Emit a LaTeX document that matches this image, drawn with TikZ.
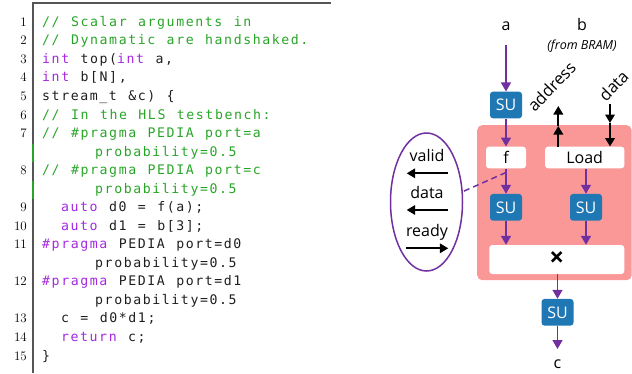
\documentclass[tikz,border=0pt]{standalone}
\usepackage{fontspec}
\newfontfamily\dfont{Open Sans}
\newfontfamily\codefont[LetterSpace=12,WordSpace=1.2]{DejaVu Sans Mono}
\usetikzlibrary{arrows.meta,shapes.geometric}
\definecolor{cmt}{RGB}{40,165,40}
\definecolor{kwc}{RGB}{165,40,225}
\definecolor{codetxt}{RGB}{30,30,30}
\definecolor{rulec}{RGB}{85,85,85}
\definecolor{pur}{RGB}{112,48,160}
\definecolor{subl}{RGB}{31,119,180}
\definecolor{pinkbg}{RGB}{250,152,152}
\newcommand{\kw}[1]{\textcolor{kwc}{#1}}
\begin{document}
\begin{tikzpicture}[x=1pt,y=-1pt,
  codeline/.style={anchor=base west, inner sep=0, text=codetxt, font=\codefont\fontsize{13.2}{15}\selectfont},
  cmtline/.style={codeline, text=cmt},
  numline/.style={anchor=base east, inner sep=0, font=\fontsize{13}{15}\selectfont},
  lbl/.style={anchor=base, inner sep=0, font=\dfont\fontsize{16}{18}\selectfont},
  subox/.style={fill=subl, rounded corners=3pt, text=white, minimum width=32, minimum height=26.7, inner sep=0, font=\dfont\fontsize{16}{18}\selectfont},
  wbox/.style={fill=white, rounded corners=3pt, minimum height=21.6, inner sep=0, font=\dfont\fontsize{16}{18}\selectfont},
  parr/.style={draw=pur, line width=1.5pt, -{Triangle[width=10pt,length=9pt]}},
  barr/.style={draw=black, line width=2pt, -{Triangle[width=9.5pt,length=8.5pt]}}
]
\useasboundingbox (0,0) rectangle (632,373);

% ---------------- listing ----------------
\draw[rulec, line width=1.5pt] (32.25,3) -- (331,3);
\draw[rulec, line width=1.5pt] (33,2.25) -- (33,143.5);
\draw[cmt, line width=1.5pt] (33,143.5) -- (33,161.8);
\draw[rulec, line width=1.5pt] (33,161.8) -- (33,180.5);
\draw[cmt, line width=1.5pt] (33,180.5) -- (33,198.9);
\draw[rulec, line width=1.5pt] (33,198.9) -- (33,373);

\node[numline] (n1) at (27,26.3) {1};
\node[numline] (n2) at (27,44.84) {2};
\node[numline] (n3) at (27,63.38) {3};
\node[numline] (n4) at (27,81.92) {4};
\node[numline] (n5) at (27,100.46) {5};
\node[numline] (n6) at (27,119.0) {6};
\node[numline] (n7) at (27,137.54) {7};
\node[numline] (n8) at (27,174.62) {8};
\node[numline] (n9) at (27,211.7) {9};
\node[numline] (n10) at (27,230.24) {10};
\node[numline] (n11) at (27,248.78) {11};
\node[numline] (n12) at (27,285.86) {12};
\node[numline] (n13) at (27,322.94) {13};
\node[numline] (n14) at (27,341.48) {14};
\node[numline] (n15) at (27,360.02) {15};

\node[cmtline] (c1) at (42,26.3) {// Scalar arguments in};
\node[cmtline] (c2) at (42,44.84) {// Dynamatic are handshaked.};
\node[codeline] (c3) at (42,63.38) {\kw{int} top(\kw{int} a,};
\node[codeline] (c4) at (42,81.92) {\kw{int} b[N],};
\node[codeline] (c5) at (42,100.46) {stream\_t \&c) \{};
\node[cmtline] (c6) at (42,119.0) {// In the HLS testbench:};
\node[cmtline] (c7) at (42,137.54) {// \#pragma PEDIA port=a};
\node[cmtline] (c7b) at (95,156.08) {probability=0.5};
\node[cmtline] (c8) at (42,174.62) {// \#pragma PEDIA port=c};
\node[cmtline] (c8b) at (95,193.16) {probability=0.5};
\node[codeline] (c9) at (60.9,211.7) {\kw{auto} d0 = f(a);};
\node[codeline] (c10) at (60.9,230.24) {\kw{auto} d1 = b[3];};
\node[codeline] (c11) at (42,248.78) {\kw{\#pragma} PEDIA port=d0};
\node[codeline] (c11b) at (95,267.32) {probability=0.5};
\node[codeline] (c12) at (42,285.86) {\kw{\#pragma} PEDIA port=d1};
\node[codeline] (c12b) at (95,304.4) {probability=0.5};
\node[codeline] (c13) at (60.9,322.94) {c = d0*d1;};
\node[codeline] (c14) at (60.9,341.48) {\kw{return} c;};
\node[codeline] (c15) at (42,360.02) {\}};

% ---------------- diagram ----------------
\node[fill=pinkbg, rounded corners=5pt, minimum width=154.5, minimum height=155, inner sep=0, anchor=north west] (region) at (477,125) {};

\node[lbl] (la) at (506,30) {a};
\node[lbl] (lb) at (582,30) {b};
\node[anchor=base, inner sep=0, font=\dfont\itshape\fontsize{12.5}{14}\selectfont] (bram) at (582,49.3) {(from BRAM)};

\node[subox] (su1) at (506,105) {SU};
\node[wbox, minimum width=40] (f) at (506,157.5) {f};
\node[wbox, minimum width=79.3] (load) at (584.7,157.5) {Load};
\node[subox] (su2) at (506,207.3) {SU};
\node[subox] (su3) at (586,207.3) {SU};
\node[wbox, minimum width=135, minimum height=29, font=\dfont\bfseries\fontsize{26}{28}\selectfont] (mult) at (556.8,259.5) {×};
\node[subox] (su4) at (557.5,312.3) {SU};
\node[lbl] (lc) at (557.5,368.3) {c};

\coordinate (astart) at (506,45);
\draw[parr] (astart) -- (su1.north);
\draw[parr] (su1.south) -- (f.north);
\draw[parr] (f.south) -- (su2.north);
\draw[parr] (load.south -| su3.north) -- (su3.north);
\draw[parr] (su2.south) -- (su2.south |- mult.north);
\draw[parr] (su3.south) -- (su3.south |- mult.north);
\draw[parr] (mult.south -| su4.north) -- (su4.north);
\coordinate (cend) at (557.5,349);
\draw[parr] (su4.south) -- (cend);

% address / data ports
\coordinate (ad1) at (558.3,126);
\coordinate (ad2) at (558.3,106);
\draw[barr] (load.north -| ad1) -- (ad1);
\draw[barr] (ad1) -- (ad2);
\coordinate (dt0) at (610,104);
\coordinate (dt1) at (610,123);
\draw[barr] (dt0) -- (dt1);
\draw[barr] (dt1) -- (load.north -| dt1);
\node[font=\dfont\fontsize{16.5}{18}\selectfont, rotate=46, inner sep=0] (addrl) at (551.5,86.5) {address};
\node[font=\dfont\fontsize{16.5}{18}\selectfont, rotate=46, inner sep=0] (datal) at (613.5,85.5) {data};

% handshake ellipse
\node[ellipse, draw=pur, line width=1.5pt, minimum width=72, minimum height=138, inner sep=0] (ell) at (426.5,202) {};
\coordinate (dstart) at (506,172.5);
\draw[pur, line width=1.5pt, dash pattern=on 6pt off 4pt] (dstart) -- (ell.16);

\node[lbl] (lvalid) at (427,161) {valid};
\node[lbl] (ldata) at (427,198.3) {data};
\node[lbl] (lready) at (427,236) {ready};
\coordinate (v0) at (448.3,173.3); \coordinate (v1) at (406.7,173.3);
\coordinate (d0) at (448.3,210); \coordinate (d1) at (406.7,210);
\coordinate (r0) at (406,248.3); \coordinate (r1) at (448.3,248.3);
\draw[barr] (v0) -- (v1);
\draw[barr] (d0) -- (d1);
\draw[barr] (r0) -- (r1);
\end{tikzpicture}
\end{document}
